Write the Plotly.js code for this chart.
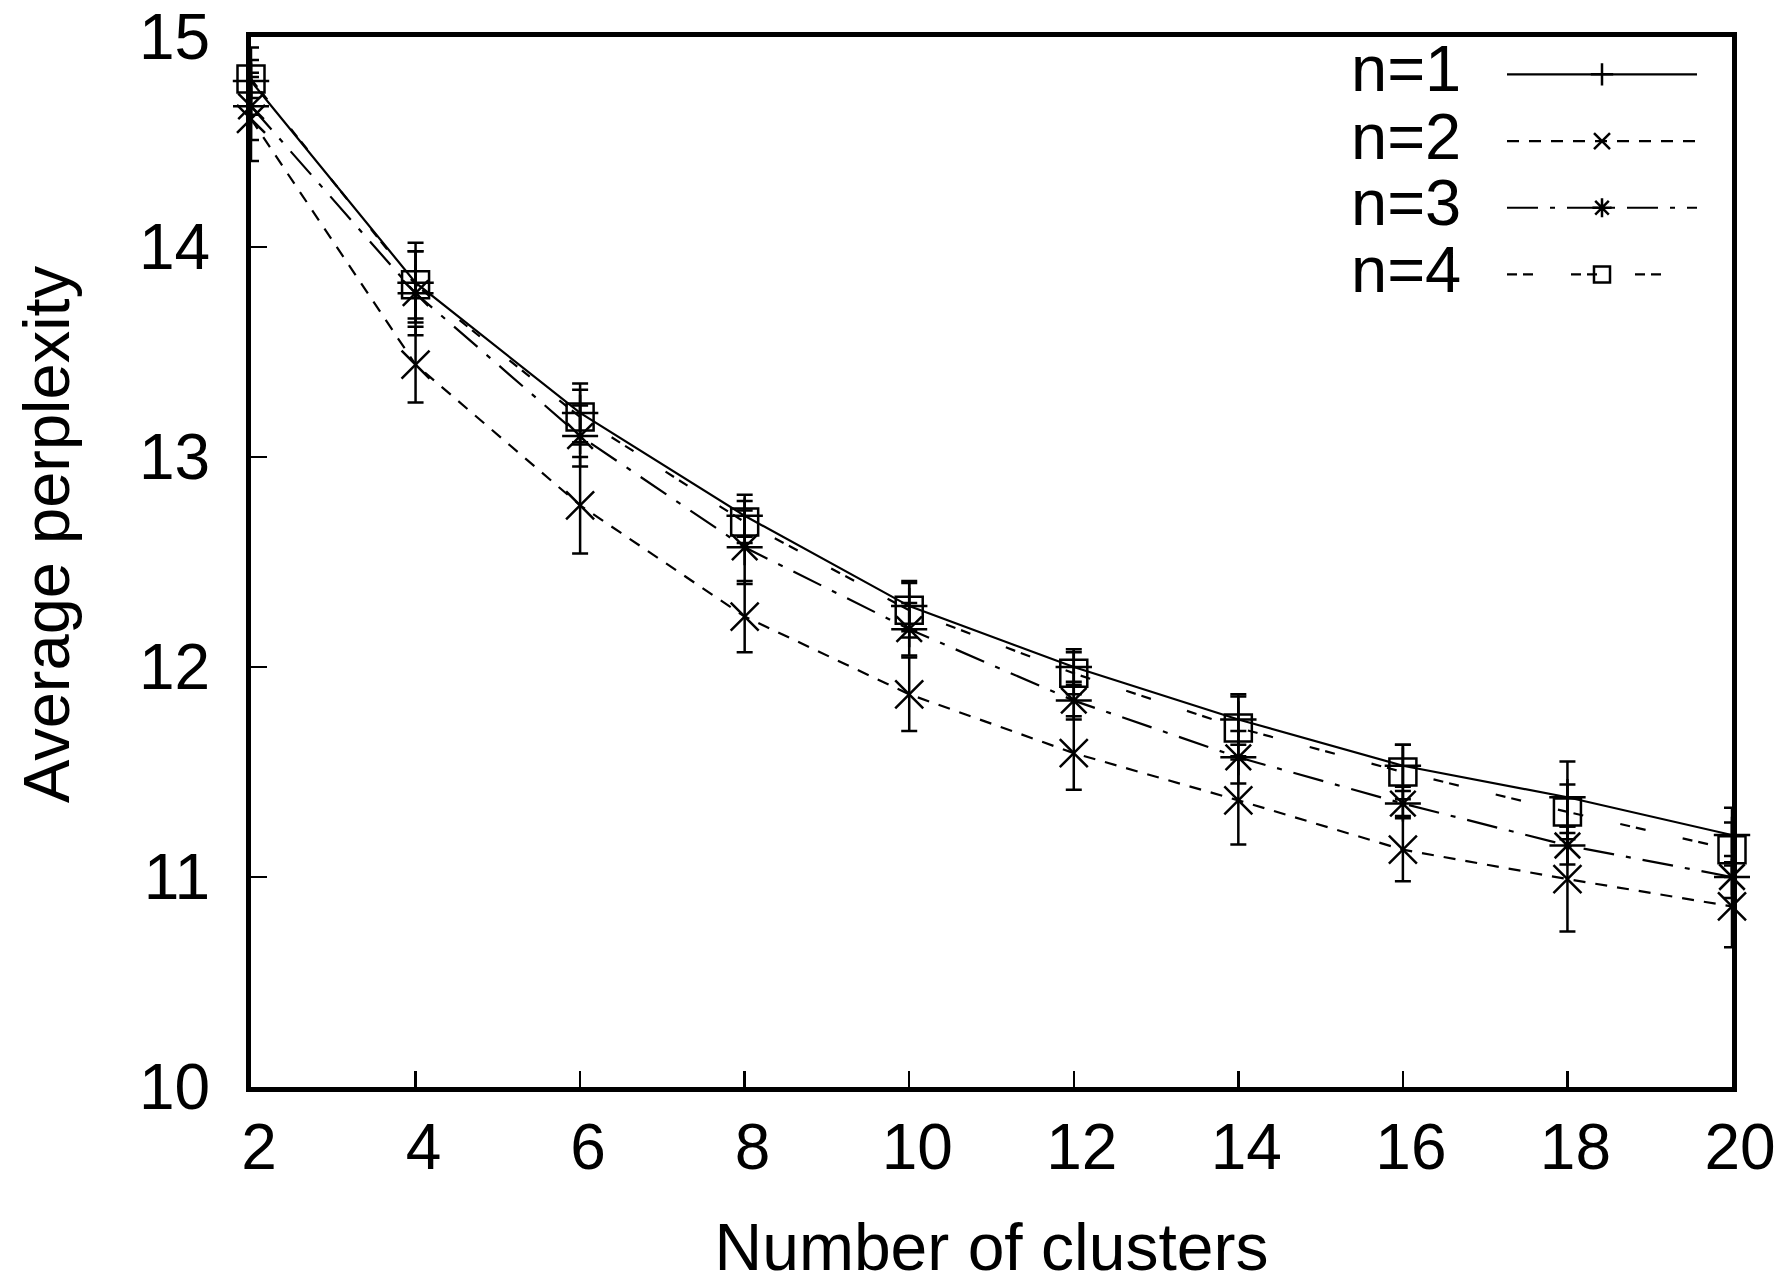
<!DOCTYPE html>
<html>
<head>
<meta charset="utf-8">
<script src="https://cdn.plot.ly/plotly-3.0.1.min.js"></script>
<style>html,body{margin:0;padding:0;background:#fff;}#chart{width:1782px;height:1284px;}</style>
</head>
<body>
<div id="chart"></div>
<script>
var clusters = [2, 4, 6, 8, 10, 12, 14, 16, 18, 20];
var seriesNames = ["n=1", "n=2", "n=3", "n=4"];
var n1 = [14.79, 13.83, 13.21, 12.72, 12.29, 12.00, 11.75, 11.53, 11.38, 11.20];
var n1err = [0.16, 0.19, 0.14, 0.10, 0.12, 0.085, 0.12, 0.10, 0.17, 0.13];
var n2 = [14.61, 13.44, 12.77, 12.24, 11.87, 11.59, 11.365, 11.13, 10.99, 10.86];
var n2err = [0.20, 0.18, 0.23, 0.17, 0.175, 0.175, 0.21, 0.15, 0.25, 0.195];
var n3 = [14.67, 13.78, 13.10, 12.57, 12.18, 11.84, 11.57, 11.35, 11.15, 11.00];
var n3err = [0.16, 0.20, 0.145, 0.175, 0.125, 0.09, 0.125, 0.06, 0.09, 0.10];
var n4 = [14.80, 13.82, 13.19, 12.69, 12.27, 11.97, 11.71, 11.50, 11.31, 11.13];
var n4err = [0.09, 0.16, 0.13, 0.10, 0.13, 0.10, 0.15, 0.13, 0.13, 0.13];
var xTicks = [2, 4, 6, 8, 10, 12, 14, 16, 18, 20];
var yTicks = [10, 11, 12, 13, 14, 15];
var xTitle = "Number of clusters";
var yTitle = "Average perplexity";

var FONT = "Liberation Sans, Arial, Helvetica, sans-serif";
var styles = [
  {dash: "solid", symbol: "cross-thin-open", size: 26},
  {dash: "12px,10px", symbol: "x-thin-open", size: 28},
  {dash: "31px,12px,5px,12px", symbol: "asterisk-open", size: 30},
  {dash: "10px,6px,10px,38px", symbol: "square-open", size: 27}
];
var ys = [n1, n2, n3, n4];
var errs = [n1err, n2err, n3err, n4err];

var traces = ys.map(function (y, i) {
  return {
    type: "scatter",
    mode: "lines+markers",
    name: "",
    hovertext: seriesNames[i],
    x: clusters,
    y: y,
    cliponaxis: false,
    line: {color: "#000", width: 2.2, dash: styles[i].dash},
    marker: {symbol: styles[i].symbol, size: styles[i].size, color: "#000",
             line: {color: "#000", width: 2.5}},
    error_y: {type: "data", array: errs[i], visible: true, color: "#000",
              thickness: 2.5, width: 8}
  };
});

var M = {l: 251, r: 50, t: 37, b: 197};
var W = 1782, H = 1284;
var plotW = W - M.l - M.r, plotH = H - M.t - M.b;
function px2x(px) { return (px - M.l) / plotW; }
function px2y(py) { return 1 - (py - M.t) / plotH; }

var legendRowsPx = [69, 136, 203, 269];
var annotations = seriesNames.map(function (s, i) {
  return {
    xref: "paper", yref: "paper", x: px2x(1463), y: px2y(legendRowsPx[i]),
    xanchor: "right", yanchor: "middle", showarrow: false, text: s,
    font: {family: FONT, size: 65, color: "#000"}
  };
});
annotations.push({
  xref: "paper", yref: "paper", x: px2x(46), y: px2y(534),
  xanchor: "center", yanchor: "middle", showarrow: false, textangle: -90,
  text: yTitle, font: {family: FONT, size: 65, color: "#000"}
});

var layout = {
  width: W, height: H,
  paper_bgcolor: "#fff", plot_bgcolor: "#fff",
  margin: {l: M.l, r: M.r, t: M.t, b: M.b, pad: 0},
  showlegend: true,
  legend: {
    x: px2x(1502), y: px2y(36), xanchor: "left", yanchor: "top",
    bgcolor: "rgba(0,0,0,0)", borderwidth: 0,
    font: {family: FONT, size: 49, color: "#000"},
    itemwidth: 190, tracegroupgap: 0
  },
  annotations: annotations,
  xaxis: {
    range: [2, 20], tickvals: xTicks, ticktext: xTicks.map(String),
    showgrid: false, zeroline: false,
    showline: true, mirror: true, linecolor: "#000", linewidth: 5,
    ticks: "inside", ticklen: 16, tickwidth: 2.5, tickcolor: "#000",
    tickfont: {family: FONT, size: 64, color: "#000"},
    ticklabelshift: 8, ticklabelstandoff: 0, ticklabeloverflow: "allow",
    title: {text: xTitle, font: {family: FONT, size: 66, color: "#000"}}
  },
  yaxis: {
    range: [10, 15.0001], tickvals: yTicks, ticktext: yTicks.map(String),
    showgrid: false, zeroline: false,
    showline: true, mirror: true, linecolor: "#000", linewidth: 5,
    ticks: "inside", ticklen: 16, tickwidth: 2.5, tickcolor: "#000",
    tickfont: {family: FONT, size: 64, color: "#000"},
    ticklabelstandoff: 23, ticklabeloverflow: "allow"
  }
};

Plotly.newPlot("chart", traces, layout, {displayModeBar: false, staticPlot: true});
</script>
</body>
</html>
